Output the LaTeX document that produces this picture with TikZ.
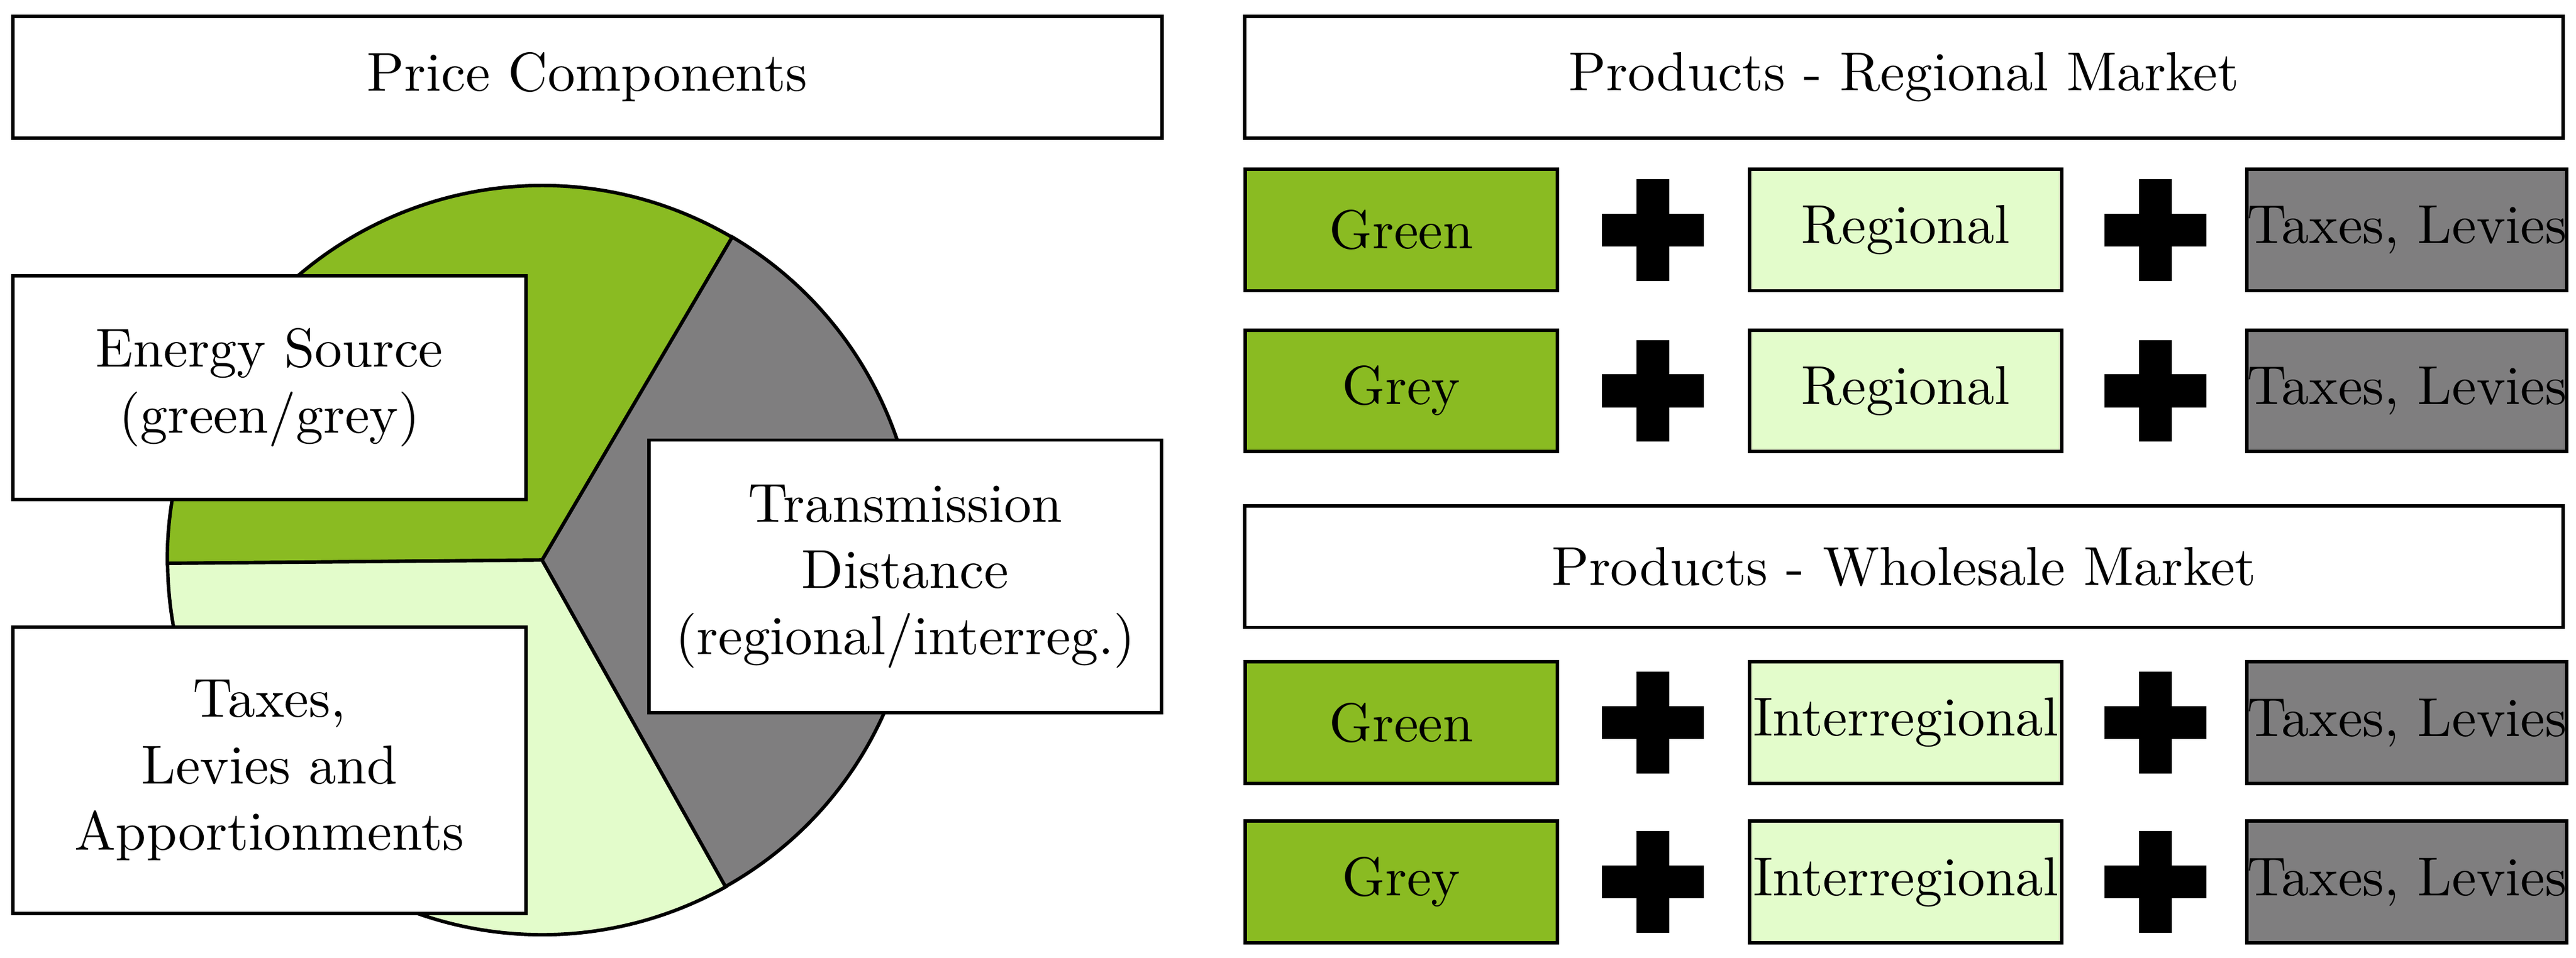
\documentclass[tikz,border=0pt]{standalone}
\usepackage{mathpazo}
\definecolor{gr}{HTML}{8ABB22}
\definecolor{lg}{HTML}{E3FCCB}
\definecolor{gy}{HTML}{7F7E7F}
\begin{document}
\begin{tikzpicture}[x=0.01cm,y=-0.01cm,
  box/.style={draw,line width=0.6pt,align=center,inner sep=0pt,font=\fontsize{9.5}{11.5}\selectfont},
  plus/.pic={\fill (-31,-10) rectangle (31,10); \fill (-10,-31) rectangle (10,31);}]
\useasboundingbox (0,0) rectangle (1568,583);
\def\R{228}
\coordinate (c) at (330,341);
\filldraw[fill=gr,line width=0.6pt] (c) -- ++(59.5:\R*0.01cm) arc[start angle=59.5,end angle=180.5,radius=2.28cm] -- cycle;
\filldraw[fill=lg,line width=0.6pt] (c) -- ++(180.5:\R*0.01cm) arc[start angle=180.5,end angle=299.3,radius=2.28cm] -- cycle;
\filldraw[fill=gy,line width=0.6pt] (c) -- ++(299.3:\R*0.01cm) arc[start angle=-60.7,end angle=59.5,radius=2.28cm] -- cycle;
\node[box,fill=white,minimum width=6.99cm,minimum height=0.74cm] (pc) at (357.5,47) {Price Components};
\node[box,fill=white,minimum width=3.12cm,minimum height=1.36cm] (es) at (164,236) {Energy Source\\(green/grey)};
\node[box,fill=white,minimum width=3.12cm,minimum height=1.74cm] (tx) at (164,469) {Taxes,\\Levies and\\Apportionments};
\node[box,fill=white,minimum width=3.12cm,minimum height=1.66cm] (td) at (551,351) {Transmission\\Distance\\(regional/interreg.)};
\node[box,minimum width=8.02cm,minimum height=0.74cm] (hr) at (1159,47) {Products - Regional Market};
\node[box,minimum width=8.02cm,minimum height=0.74cm] (hw) at (1159,345) {Products - Wholesale Market};
\foreach \y/\a/\b/\n in {140/Green/Regional/1,238/Grey/Regional/2,440/Green/Interregional/3,537/Grey/Interregional/4}{
  \node[box,fill=gr,minimum width=1.9cm,minimum height=0.74cm] (a\n) at (853,\y) {\a};
  \node[box,fill=lg,minimum width=1.9cm,minimum height=0.74cm] (b\n) at (1160,\y) {\b};
  \node[box,fill=gy,minimum width=1.9cm,minimum height=0.74cm] (t\n) at (1465,\y) {Taxes, Levies};
  \pic at (1006,\y) {plus};
  \pic at (1312,\y) {plus};
}
\end{tikzpicture}
\end{document}
